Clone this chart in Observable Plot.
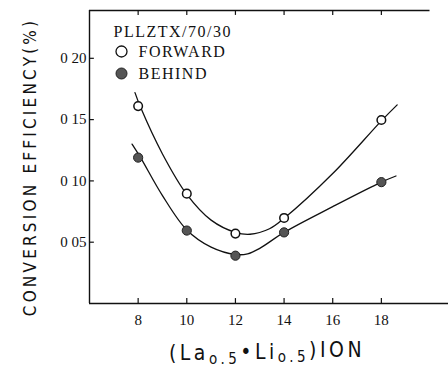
<!DOCTYPE html>
<html>
<head>
<meta charset="utf-8">
<script src="https://cdn.jsdelivr.net/npm/d3@7"></script>
<script src="https://cdn.jsdelivr.net/npm/@observablehq/plot@0.6"></script>
<style>
  html, body { margin: 0; padding: 0; background: #fff; }
  #chart svg { display: block; }
</style>
</head>
<body>
<div id="chart"></div>
<script>
// ---- data ----
const xTicks = [8, 10, 12, 14, 16, 18];
const xTickLabels = ["8", "10", "12", "14", "16", "18"];
const yTicks = [0.05, 0.10, 0.15, 0.20];
const yTickLabels = ["0 05", "0 10", "0 15", "0 20"];

const ions = [8, 10, 12, 14, 18];
const forward = [0.161, 0.0896, 0.057, 0.0698, 0.1497];
const behind = [0.119, 0.0595, 0.039, 0.058, 0.099];

// hand-drawn fitted curves
const forwardCurveX = [7.87, 8.1, 9, 10, 11, 12, 12.6, 13.4, 14, 16, 18, 18.65];
const forwardCurveY = [0.172, 0.160, 0.122, 0.089, 0.068, 0.058, 0.0565, 0.061, 0.0695, 0.106, 0.149, 0.162];
const behindCurveX = [7.75, 8.1, 9, 10, 11, 12, 12.5, 13, 14, 16, 18, 18.6];
const behindCurveY = [0.130, 0.119, 0.088, 0.060, 0.046, 0.040, 0.0405, 0.045, 0.058, 0.079, 0.099, 0.104];

const legendTitle = "PLLZTX/70/30";
const seriesNames = ["FORWARD", "BEHIND"];
const yLabel = "CONVERSION EFFICIENCY(%)";

// ---- tables ----
const fPts = ions.map((x, i) => ({x, y: forward[i]}));
const bPts = ions.map((x, i) => ({x, y: behind[i]}));
const fCurve = forwardCurveX.map((x, i) => ({x, y: forwardCurveY[i]}));
const bCurve = behindCurveX.map((x, i) => ({x, y: behindCurveY[i]}));
const xTickData = xTicks.map((x, i) => ({x, label: xTickLabels[i]}));
const yTickData = yTicks.map((y, i) => ({y, label: yTickLabels[i]}));

const xMin = 6, xMax = 20.76, yMin = 0, yMax = 0.239;
const serif = "Liberation Serif, Times New Roman, serif";
const sans = "DejaVu Sans Condensed, Liberation Sans Narrow, Liberation Sans, sans-serif";

const plot = Plot.plot({
  width: 448,
  height: 369,
  marginLeft: 89,
  marginRight: 0,
  marginTop: 10,
  marginBottom: 66,
  style: {background: "#fff", color: "#111"},
  x: {domain: [xMin, xMax], axis: null, label: null},
  y: {domain: [yMin, yMax], axis: null, label: null},
  marks: [
    // frame
    Plot.ruleX([xMin], {y1: yMin, y2: yMax, stroke: "#111", strokeWidth: 1.4}),
    Plot.ruleY([yMin], {x1: xMin, x2: xMax, stroke: "#111", strokeWidth: 1.4}),
    Plot.ruleY([yMax], {x1: xMin, x2: 20, stroke: "#111", strokeWidth: 1.4}),
    // inward ticks
    Plot.ruleX(xTicks, {x: d => d, y1: yMin, y2: yMin + 0.004, stroke: "#111", strokeWidth: 1.2}),
    Plot.ruleX(xTicks, {x: d => d, y1: yMax, y2: yMax - 0.004, stroke: "#111", strokeWidth: 1.2}),
    Plot.ruleY(yTicks, {y: d => d, x1: xMin, x2: xMin + 0.2, stroke: "#111", strokeWidth: 1.2}),
    // tick labels
    Plot.text(xTickData, {x: "x", y: () => yMin, text: "label", dy: 17, fontSize: 15, fontFamily: serif, fill: "#111",
      textAnchor: "middle", lineAnchor: "middle"}),
    Plot.text(yTickData, {x: () => xMin, y: "y", text: "label", dx: -3, fontSize: 15, fontFamily: serif, fill: "#111",
      textAnchor: "end", lineAnchor: "middle"}),
    // curves
    Plot.line(fCurve, {x: "x", y: "y", curve: "catmull-rom", stroke: "#111", strokeWidth: 1.3}),
    Plot.line(bCurve, {x: "x", y: "y", curve: "catmull-rom", stroke: "#111", strokeWidth: 1.3}),
    // points
    Plot.dot(fPts, {x: "x", y: "y", r: 4.3, fill: "#fff", stroke: "#111", strokeWidth: 1.5}),
    Plot.dot(bPts, {x: "x", y: "y", r: 4.6, fill: "#555", stroke: "#222", strokeWidth: 1}),
    // legend
    Plot.text([legendTitle], {frameAnchor: "top-left", dx: 24, dy: 21, textAnchor: "start", lineAnchor: "middle",
      fontSize: 16, fontFamily: serif, fill: "#111", className: "legtxt"}),
    Plot.dot([seriesNames[0]], {frameAnchor: "top-left", dx: 32, dy: 41, r: 5.5, fill: "#fff", stroke: "#111", strokeWidth: 1.3}),
    Plot.text([seriesNames[0]], {frameAnchor: "top-left", dx: 49, dy: 41, textAnchor: "start", lineAnchor: "middle",
      fontSize: 16, fontFamily: serif, fill: "#111", className: "legtxt"}),
    Plot.dot([seriesNames[1]], {frameAnchor: "top-left", dx: 32, dy: 63, r: 5.5, fill: "#555", stroke: "#222", strokeWidth: 1}),
    Plot.text([seriesNames[1]], {frameAnchor: "top-left", dx: 49, dy: 63, textAnchor: "start", lineAnchor: "middle",
      fontSize: 16, fontFamily: serif, fill: "#111", className: "legtxt"}),
    // y label
    Plot.text([yLabel], {frameAnchor: "left", dx: -59, dy: 10, rotate: -90, textAnchor: "middle", lineAnchor: "middle",
      fontSize: 17, fontFamily: sans, fill: "#111", className: "ylab"}),
    // x label (content replaced below with subscripts)
    Plot.text(["(La0.5•Li0.5)ION"], {frameAnchor: "bottom", dx: -2, dy: 50, textAnchor: "middle", lineAnchor: "middle",
      fontSize: 21, fontFamily: sans, fill: "#111", className: "xlab"})
  ]
});

document.getElementById("chart").appendChild(plot);

const svg = d3.select(plot);
svg.selectAll(".legtxt text").style("letter-spacing", "1.5px");
svg.selectAll(".ylab text").style("letter-spacing", "3.2px");
const xl = svg.select(".xlab text");
xl.text(null).style("letter-spacing", "3.5px");
const parts = [["(La", 0], ["o.5", 1], ["•Li", 0], ["o.5", 1], [")ION", 0]];
parts.forEach(([t, sub], i) => {
  const ts = xl.append("tspan").text(t);
  if (sub) ts.attr("font-size", 15).attr("dy", "0.25em");
  else if (i > 0) ts.attr("dy", "-0.25em");
});
</script>
</body>
</html>
